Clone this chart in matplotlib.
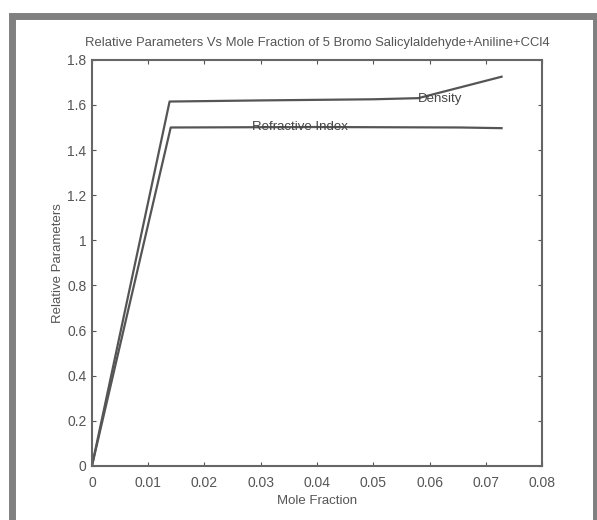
import numpy as np
import matplotlib
matplotlib.use("Agg")
import matplotlib.pyplot as plt
from matplotlib.patches import Rectangle

# mole fraction and relative parameters
density_x = [0.0, 0.0138, 0.030, 0.050, 0.058, 0.0728]
density_y = [0.0, 1.615, 1.620, 1.625, 1.630, 1.725]
refr_x = [0.0, 0.0140, 0.040, 0.0655, 0.0728]
refr_y = [0.0, 1.500, 1.502, 1.500, 1.497]

xticks = [0, 0.01, 0.02, 0.03, 0.04, 0.05, 0.06, 0.07, 0.08]
xtick_labels = ["0", "0.01", "0.02", "0.03", "0.04", "0.05", "0.06", "0.07", "0.08"]
yticks = [0, 0.2, 0.4, 0.6, 0.8, 1.0, 1.2, 1.4, 1.6, 1.8]
ytick_labels = ["0", "0.2", "0.4", "0.6", "0.8", "1", "1.2", "1.4", "1.6", "1.8"]

plt.rcParams['font.family'] = ['Liberation Sans', 'DejaVu Sans']
grey = "#555555"

fig = plt.figure(figsize=(5.97, 5.2), dpi=100)
ax = fig.add_axes([0.154, 0.104, 0.754, 0.781])

ax.plot(density_x, density_y, color=grey, lw=1.6)
ax.plot(refr_x, refr_y, color=grey, lw=1.6)

ax.text(0.0619, 1.625, "Density", color="#444444", fontsize=9.5,
        ha="center", va="center")
ax.text(0.037, 1.5, "Refractive Index", color="#444444", fontsize=9.5,
        ha="center", va="center")

ax.set_xlim(0, 0.08)
ax.set_ylim(0, 1.8)
ax.set_xticks(xticks)
ax.set_xticklabels(xtick_labels)
ax.set_yticks(yticks)
ax.set_yticklabels(ytick_labels)
ax.tick_params(direction="in", top=True, right=True, length=3,
               colors=grey, labelcolor="#555555", labelsize=10)
ax.tick_params(axis="x", pad=7)
ax.tick_params(axis="y", pad=4)
for s in ax.spines.values():
    s.set_color("#666666")
    s.set_linewidth(1.5)

ax.set_title("Relative Parameters Vs Mole Fraction of 5 Bromo Salicylaldehyde+Aniline+CCl4",
             fontsize=9.4, color="#555555", pad=10)
ax.set_xlabel("Mole Fraction", fontsize=9.5, color="#555555", labelpad=4)
ax.set_ylabel("Relative Parameters", fontsize=9.5, color="#555555", labelpad=2)

# grey outer frame
frame = Rectangle((0.02, -0.2), 0.978, 1.169, transform=fig.transFigure,
                  fill=False, edgecolor="#808080", linewidth=5, clip_on=False)
fig.patches.append(frame)

fig.savefig("out.png", dpi=100)
